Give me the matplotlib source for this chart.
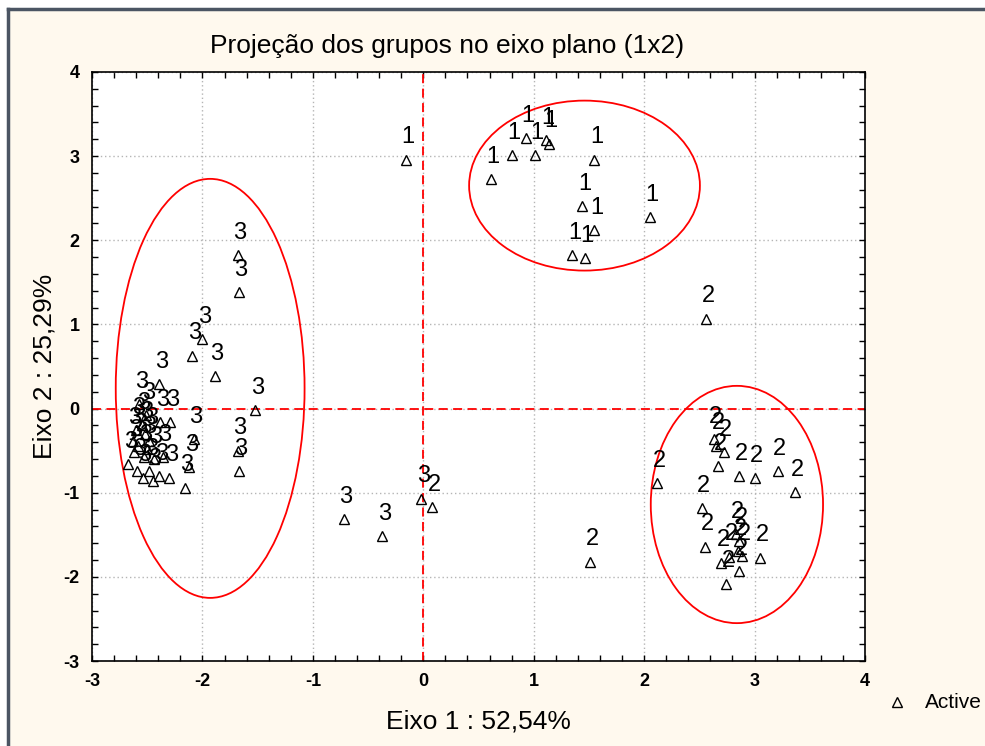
import numpy as np
import matplotlib
matplotlib.use("Agg")
import matplotlib.pyplot as plt
from matplotlib.patches import Ellipse
from matplotlib.lines import Line2D
from matplotlib.ticker import MultipleLocator

plt.rcParams['font.family'] = ['Liberation Sans', 'DejaVu Sans']
plt.rcParams['axes.unicode_minus'] = False

# group 1 (top cluster)
x1 = [-0.16, 0.93, 1.11, 1.14, 0.80, 1.01, 0.61, 1.55, 1.44, 1.55, 1.35, 1.46, 2.05]
y1 = [2.96, 3.21, 3.19, 3.15, 3.01, 3.01, 2.73, 2.96, 2.41, 2.12, 1.82, 1.79, 2.28]

# group 2 (right cluster)
x2 = [2.56, 1.51, 0.08, 2.12, 2.63, 2.65, 2.72, 2.67, 2.86, 3.00, 3.21, 3.37,
      2.52, 2.55, 2.70, 2.77, 2.83, 2.86, 2.85, 2.89, 2.86, 3.05, 2.74]
y2 = [1.07, -1.82, -1.17, -0.89, -0.36, -0.44, -0.52, -0.68, -0.80, -0.83, -0.74, -0.99,
      -1.18, -1.64, -1.83, -1.76, -1.49, -1.57, -1.69, -1.75, -1.93, -1.77, -2.08]

# group 3 (left cluster)
x3 = [-1.68, -1.67, -2.00, -2.09, -1.89, -1.52, -2.08, -1.68, -1.67, -2.12, -2.16,
      -0.72, -0.37, -0.02,
      -2.39, -2.51, -2.38, -2.29, -2.60, -2.63, -2.48, -2.62, -2.53, -2.67, -2.36,
      -2.59, -2.48, -2.39, -2.30, -2.54, -2.45, -2.57, -2.55, -2.50, -2.44, -2.58, -2.52]
y3 = [1.82, 1.38, 0.83, 0.63, 0.39, -0.02, -0.36, -0.50, -0.74, -0.70, -0.94,
      -1.31, -1.52, -1.07,
      0.29, -0.08, -0.16, -0.16, -0.26, -0.38, -0.38, -0.52, -0.58, -0.66, -0.58,
      -0.74, -0.74, -0.80, -0.82, -0.82, -0.86, 0.05, -0.20, -0.48, -0.60, -0.45, -0.30]

groups = [("1", x1, y1), ("2", x2, y2), ("3", x3, y3)]

ticks = [-3, -2, -1, 0, 1, 2, 3, 4]
tick_labels = ["-3", "-2", "-1", "0", "1", "2", "3", "4"]

# ellipses: center, width, height
ellipses = [((-1.93, 0.24), 1.71, 4.98),
            ((1.46, 2.65), 2.09, 2.02),
            ((2.84, -1.14), 1.56, 2.82)]

bg = "#fff9ee"
fig = plt.figure(figsize=(9.85, 7.46), dpi=100)
fig.patch.set_facecolor("white")
# cream panel with dark frame on top / left
fig.patches.append(plt.Rectangle((8 / 985, 0), 1, 1 - 9 / 746, transform=fig.transFigure,
                                 facecolor=bg, edgecolor="none", zorder=-2))
fig.add_artist(Line2D([8 / 985, 1], [1 - 9 / 746] * 2, color="#4b5563", lw=2.5))
fig.add_artist(Line2D([8 / 985] * 2, [0, 1 - 9 / 746], color="#4b5563", lw=2.5))

ax = fig.add_axes([92 / 985, 85 / 746, 773 / 985, 589 / 746])
ax.set_facecolor("white")

ax.set_xticks(ticks, tick_labels, fontsize=13, fontweight="bold")
ax.set_yticks(ticks, tick_labels, fontsize=13, fontweight="bold")
ax.xaxis.set_minor_locator(MultipleLocator(0.2))
ax.yaxis.set_minor_locator(MultipleLocator(0.2))
ax.set_xlim(-3, 4)
ax.set_ylim(-3, 4)
ax.tick_params(which="both", direction="in", top=True, right=True, length=4, width=1)
ax.tick_params(axis="x", which="major", pad=9)
ax.tick_params(axis="y", which="major", pad=9)
ax.grid(True, which="major", linestyle=(0, (1, 2)), color="#b5b5b5", lw=1)
for s in ax.spines.values():
    s.set_linewidth(1.2)

ax.axhline(0, color="red", ls=(0, (5, 3)), lw=1.3, zorder=2)
ax.axvline(0, color="red", ls=(0, (5, 3)), lw=1.3, zorder=2)

for (c, w, h) in ellipses:
    ax.add_patch(Ellipse(c, w, h, fill=False, edgecolor="red", lw=1.3, zorder=2))

for name, xs, ys in groups:
    ax.plot(xs, ys, ls="none", marker="^", ms=7, mfc="none", mec="black", mew=1, zorder=3)
    for x, y in zip(xs, ys):
        ax.annotate(name, (x, y), xytext=(1.5, 16), textcoords="offset points",
                    ha="center", va="center", fontsize=17, zorder=4)

ax.set_title("Projeção dos grupos no eixo plano (1x2)", fontsize=19, pad=14,
             x=(447 - 92) / 773)
ax.set_xlabel("Eixo 1 : 52,54%", fontsize=19, labelpad=14)
ax.set_ylabel("Eixo 2 : 25,29%", fontsize=19, labelpad=5)

# legend entry outside the axes
fig.add_artist(Line2D([897 / 985], [1 - 702 / 746], marker="^", ms=7, mfc="none",
                      mec="black", mew=1, ls="none"))
fig.text(925 / 985, 1 - 702 / 746, "Active", fontsize=15, va="center", ha="left")

fig.savefig("out.png", dpi=100, facecolor=fig.get_facecolor())
